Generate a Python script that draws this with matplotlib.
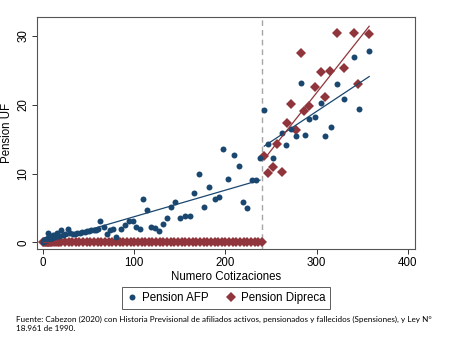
import numpy as np
import matplotlib
matplotlib.use("Agg")
import matplotlib.pyplot as plt
from matplotlib.lines import Line2D

# ---------- datos ----------
# cotizaciones < 240
afp_x_pre = [0, 1, 2, 3, 4, 5, 6, 7, 8, 9, 10, 11, 12, 13.5, 15.5, 17.5, 19.5,
             21.5, 24, 27, 30, 32.5, 35, 37.5, 40.5, 43, 45.5, 48, 50.5, 53,
             55.5, 58, 60.5, 63, 67, 70.5, 73, 77, 80, 85, 90, 94, 99, 101.5,
             106, 110, 114, 118, 123, 127.5, 131, 135.5, 140, 145, 150, 155.5,
             161, 165.5, 171, 176, 182, 188, 193, 197.6, 203, 209, 214.8,
             219.5, 224, 228.7, 233.4, 237.8]
afp_y_pre = [0.1, 0.3, 0.2, 0.5, 0.4, 1.4, 0.6, 0.9, 0.5, 0.8, 0.7, 1.0, 0.9,
             1.1, 1.3, 0.9, 1.8, 1.1, 1.2, 1.9, 1.3, 1.2, 1.2, 1.3, 1.4, 1.5,
             1.5, 1.7, 1.7, 1.8, 1.8, 1.8, 1.9, 3.1, 2.3, 1.2, 1.8, 2.0, 0.8,
             1.9, 2.5, 3.1, 3.1, 2.2, 1.9, 6.3, 4.7, 2.2, 2.1, 1.7, 2.7, 3.6,
             5.1, 5.9, 3.5, 3.8, 3.8, 7.2, 9.9, 5.2, 8.1, 6.3, 6.6, 13.6, 9.2,
             12.7, 11.1, 5.8, 5.0, 9.0, 9.05, 12.2]

dip_x_pre = [0, 1, 2, 3, 4, 5, 6, 7, 8, 9, 10, 12, 14, 16, 18, 20, 24, 28, 32,
             36, 40, 44, 48, 52, 56, 60, 64, 68, 72, 76, 80, 84, 88, 92, 96,
             100, 104, 108, 112, 116, 120, 124, 128, 132, 136, 140, 144, 148,
             152, 156, 160, 164, 168, 172, 176, 180, 184, 188, 192, 196, 200,
             204, 208, 212, 216, 220, 224, 228, 232, 236, 240]
dip_y_pre = [0] * len(dip_x_pre)

# cotizaciones >= 240
afp_x_post = [242.5, 246.9, 251.7, 261.6, 266.7, 271.8, 277.2, 282.4, 286.7,
              291.6, 298, 304.5, 309, 315.3, 322, 329.7, 341.3, 345.9, 357.6]
afp_y_post = [19.3, 14.3, 12.2, 15.9, 14.2, 16.5, 15.5, 23.2, 15.6, 17.9,
              18.2, 20.2, 15.5, 16.7, 23.0, 20.8, 27.0, 19.4, 27.8]

dip_x_post = [242.5, 246.9, 252, 257, 261.5, 267, 271.6, 277.3, 282.3, 286.5,
              291.2, 298.2, 304.4, 309.2, 315, 322, 329.7, 341.3, 345.7, 357.5]
dip_y_post = [12.6, 10.1, 11.0, 14.3, 10.2, 17.4, 20.1, 16.3, 27.5, 19.1,
              19.8, 22.6, 24.7, 21.2, 24.9, 30.5, 25.3, 30.5, 23.0, 30.3]

corte = 240
azul = "#1a476f"
rojo = "#90353b"

plt.rcParams["font.family"] = ["Liberation Sans", "DejaVu Sans"]

fig = plt.figure(figsize=(4.52, 3.48), dpi=100)
ax = fig.add_axes([0.0812, 0.2845, 0.8368, 0.6655])

ax.plot(dip_x_pre, dip_y_pre, "D", color=rojo, ms=4.8, mew=0, zorder=3)
ax.plot(dip_x_post, dip_y_post, "D", color=rojo, ms=4.8, mew=0, zorder=3)
ax.plot(afp_x_pre, afp_y_pre, "o", color=azul, ms=4.3, mew=0, zorder=4)
ax.plot(afp_x_post, afp_y_post, "o", color=azul, ms=4.3, mew=0, zorder=4)


def ajuste(x, y, color):
    # recta de mínimos cuadrados sobre el rango de x
    x = np.asarray(x, dtype=float)
    b, a = np.polyfit(x, np.asarray(y, dtype=float), 1)
    xs = np.array([x.min(), x.max()])
    ax.plot(xs, a + b * xs, color=color, lw=0.9, zorder=5)


ajuste(afp_x_pre, afp_y_pre, azul)
ajuste(dip_x_pre, dip_y_pre, rojo)
ajuste(afp_x_post, afp_y_post, azul)
ajuste(dip_x_post, dip_y_post, rojo)

ax.axvline(corte, color="#a6a6a6", lw=1.0, dashes=(4, 3), zorder=2)

ax.set_xlim(-6.9, 407.7)
ax.set_ylim(-0.97, 32.7)
ax.set_xticks([0, 100, 200, 300, 400])
ax.set_yticks([0, 10, 20, 30])
ax.tick_params(labelsize=8.3, length=3.5, width=0.7, color="#333333", pad=2)
plt.setp(ax.get_yticklabels(), rotation=90, va="center")
for s in ax.spines.values():
    s.set_color("#555555")
    s.set_linewidth(0.8)

ax.set_xlabel("Numero Cotizaciones", fontsize=8.3, labelpad=2)
ax.set_ylabel("Pension UF", fontsize=8.3, labelpad=3)

handles = [
    Line2D([], [], marker="o", ls="", color=azul, ms=4.3, mew=0, label="Pension AFP"),
    Line2D([], [], marker="D", ls="", color=rojo, ms=4.8, mew=0, label="Pension Dipreca"),
]
leg = fig.legend(handles=handles, loc="center", bbox_to_anchor=(0.5, 0.1435),
                 ncol=2, fontsize=8.3, frameon=True, fancybox=False,
                 handletextpad=0.4, columnspacing=1.4, borderpad=0.4,
                 handlelength=1.0)
leg.get_frame().set_edgecolor("#333333")
leg.get_frame().set_linewidth(0.7)

fig.text(0.035, 0.069,
         "Fuente: Cabezon (2020) con Historia Previsional de afiliados activos, "
         "pensionados y fallecidos (Spensiones), y Ley N°\n18.961 de 1990.",
         fontsize=5.85, family=["Lato", "DejaVu Sans"], va="center",
         linespacing=1.45)

fig.savefig("out.png", dpi=100)
